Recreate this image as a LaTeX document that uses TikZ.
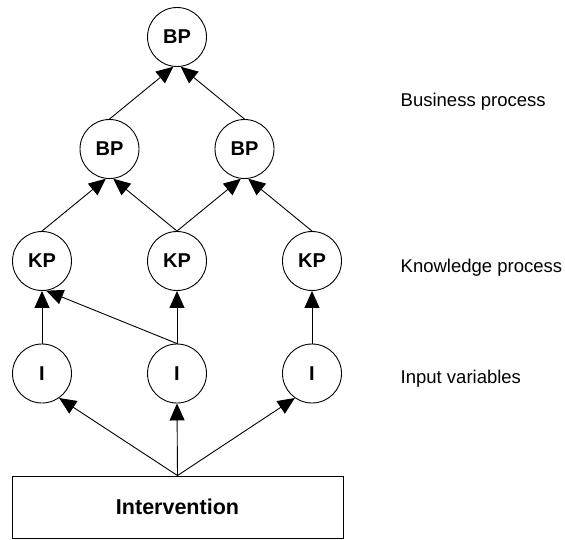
\documentclass[tikz,border=0pt]{standalone}
\usepackage{fontspec}
\setmainfont{Liberation Sans}
\usetikzlibrary{arrows.meta}
\begin{document}
\begin{tikzpicture}[x=1pt,y=-1pt,
  circ/.style={draw,circle,line width=0.9pt,minimum size=59pt,inner sep=0pt,font=\fontsize{20}{23}\selectfont\bfseries},
  boxnode/.style={draw,rectangle,line width=0.9pt,minimum width=331pt,minimum height=62pt,inner sep=0pt,font=\fontsize{21.5}{24}\selectfont\bfseries},
  lbl/.style={anchor=base west,inner sep=0pt,font=\fontsize{18.5}{22}\selectfont},
  arr/.style={line width=0.9pt,-{Triangle[length=17pt,width=15pt]}}]
\useasboundingbox (0,0) rectangle (565,539);
\node[circ] (tbp) at (177,37) {BP};
\node[circ] (bp1) at (109.5,149) {BP};
\node[circ] (bp2) at (244.5,149) {BP};
\node[circ] (kp1) at (42,261) {KP};
\node[circ] (kp2) at (177,261) {KP};
\node[circ] (kp3) at (312,261) {KP};
\node[circ] (i1) at (42,373.5) {I};
\node[circ] (i2) at (177,373.5) {I};
\node[circ] (i3) at (312,373.5) {I};
\node[boxnode] (iv) at (177.5,507) {Intervention};
\node[lbl] (l1) at (400.5,106.5) {Business process};
\node[lbl] (l2) at (400.5,272) {Knowledge process};
\node[lbl] (l3) at (400.5,383) {Input variables};
\draw[arr] (bp1.north) -- (tbp.-97);
\draw[arr] (bp2.north) -- (tbp.-83);
\draw[arr] (kp1.north) -- (bp1.-97);
\draw[arr] (kp2.north) -- (bp1.-83);
\draw[arr] (kp2.north) -- (bp2.-97);
\draw[arr] (kp3.north) -- (bp2.-83);
\draw[arr] (i1.north) -- (kp1.south);
\draw[arr] (i2.north) -- (kp1.-82);
\draw[arr] (i2.north) -- (kp2.south);
\draw[arr] (i3.north) -- (kp3.south);
\draw[arr] (iv.north) -- (i1.-55);
\draw[arr] (iv.north) -- (i2.south);
\draw[arr] (iv.north) -- (i3.-125);
\end{tikzpicture}
\end{document}
